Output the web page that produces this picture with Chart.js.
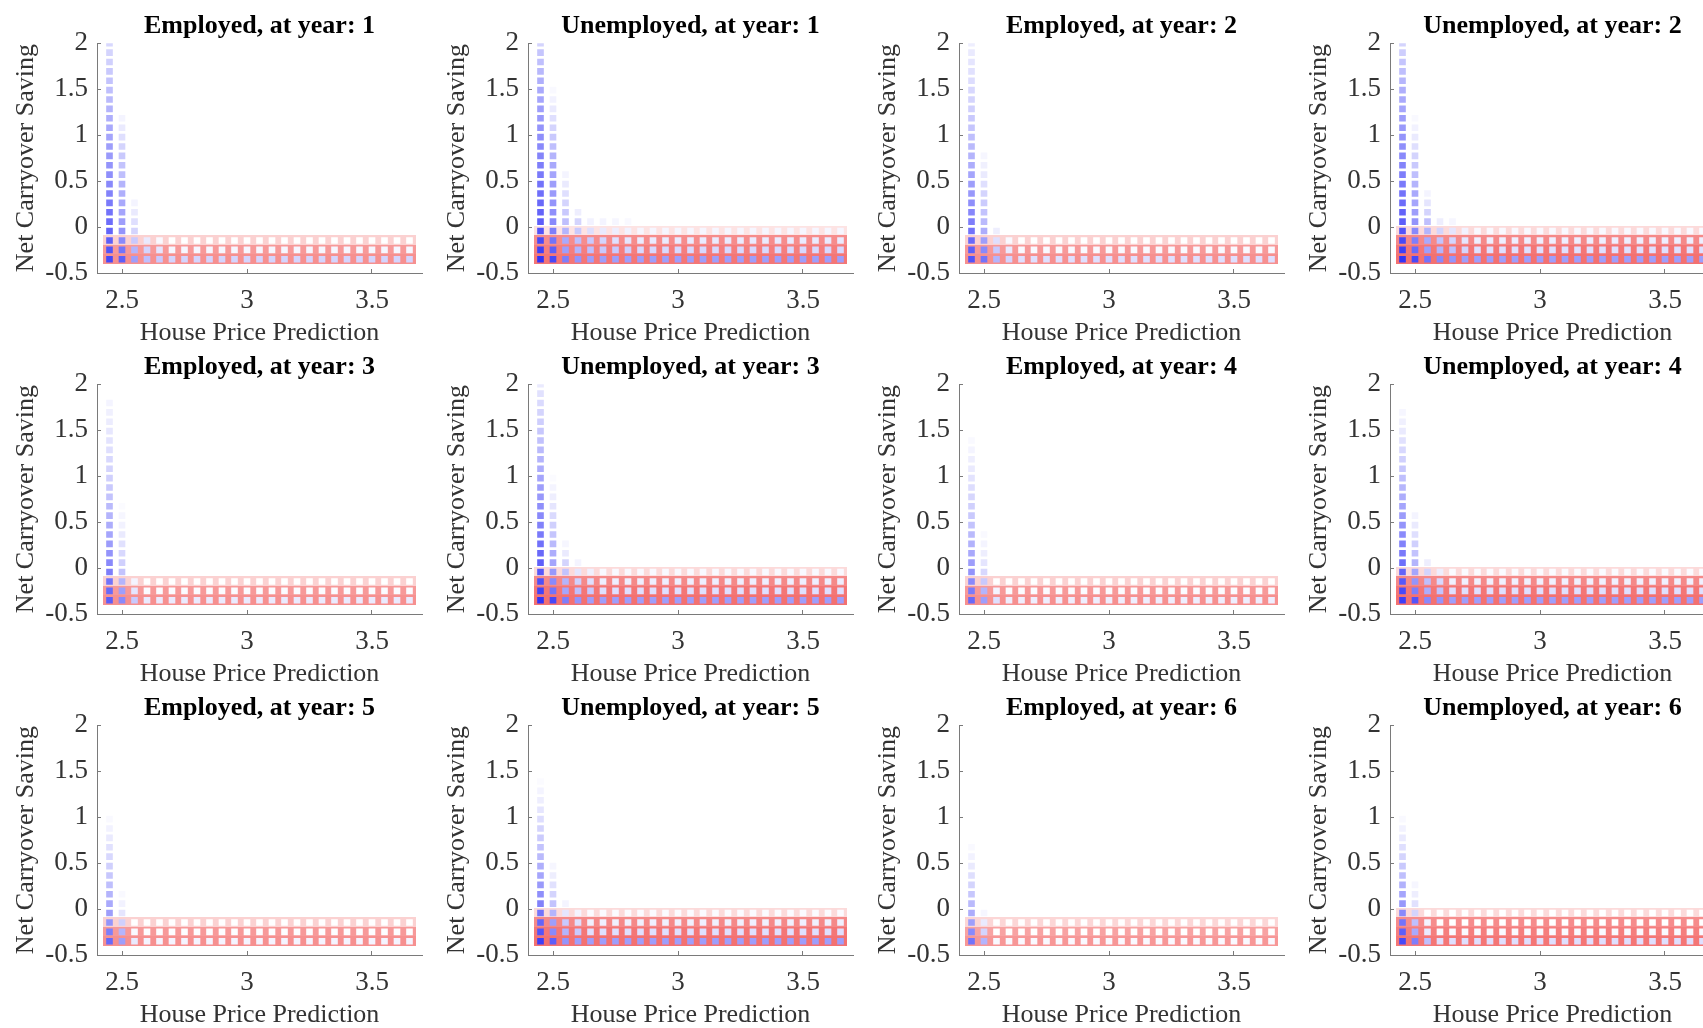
<!DOCTYPE html>
<html>
<head>
<meta charset="utf-8">
<script src="https://cdn.jsdelivr.net/npm/chart.js@4"></script>
<style>
  html, body { margin: 0; padding: 0; background: #fff; }
  #fig { position: relative; width: 1703px; height: 1028px; overflow: hidden; }
  #fig canvas { position: absolute; }
</style>
</head>
<body>
<div id="fig"></div>
<script>
// grid of the policy plot
const xGrid = [2.45, 2.5, 2.55, 2.6, 2.65, 2.7, 2.75, 2.8, 2.85, 2.9, 2.95, 3.0, 3.05,
  3.1, 3.15, 3.2, 3.25, 3.3, 3.35, 3.4, 3.45, 3.5, 3.55, 3.6, 3.65];
const yGrid = [-0.35, -0.248, -0.146, -0.043, 0.059, 0.161, 0.263, 0.365, 0.467, 0.57,
  0.672, 0.774, 0.876, 0.978, 1.08, 1.183, 1.285, 1.387, 1.489, 1.591, 1.693, 1.796, 1.898, 2.0];
const xTicks = [2.5, 3, 3.5];
const yTicks = [-0.5, 0, 0.5, 1, 1.5, 2];

const titles = [
  'Employed, at year: 1', 'Unemployed, at year: 1', 'Employed, at year: 2', 'Unemployed, at year: 2',
  'Employed, at year: 3', 'Unemployed, at year: 3', 'Employed, at year: 4', 'Unemployed, at year: 4',
  'Employed, at year: 5', 'Unemployed, at year: 5', 'Employed, at year: 6', 'Unemployed, at year: 6'
];

// blue intensity (0 = white, 1 = full blue), per column from the bottom row up
const blueE1 = [
  [0.85, 0.8, 0.75, 0.72, 0.68, 0.65, 0.62, 0.58, 0.55, 0.52, 0.5, 0.47, 0.45, 0.42, 0.4, 0.37, 0.35, 0.32, 0.3, 0.28, 0.25, 0.22, 0.2, 0.18],
  [0.75, 0.65, 0.55, 0.5, 0.45, 0.42, 0.4, 0.37, 0.35, 0.3, 0.28, 0.25, 0.2, 0.15, 0.1, 0.05],
  [0.45, 0.35, 0.25, 0.2, 0.15, 0.1, 0.05],
  [0.3, 0.2, 0.1],
  [0.25, 0.12, 0.03]
];
const tailE1 = [0.2, 0.04, 0];
const redE1 = [0.6, 0.55, 0.25];

const blueU1 = [
  [0.95, 0.9, 0.85, 0.8, 0.75, 0.72, 0.7, 0.67, 0.65, 0.62, 0.6, 0.57, 0.55, 0.52, 0.5, 0.47, 0.45, 0.42, 0.4, 0.37, 0.33, 0.3, 0.27, 0.2],
  [0.85, 0.75, 0.65, 0.6, 0.55, 0.52, 0.5, 0.47, 0.45, 0.42, 0.4, 0.35, 0.3, 0.25, 0.2, 0.15, 0.1, 0.06, 0.03],
  [0.6, 0.45, 0.4, 0.35, 0.3, 0.25, 0.2, 0.15, 0.1, 0.05],
  [0.5, 0.35, 0.3, 0.25, 0.2, 0.08],
  [0.45, 0.3, 0.25, 0.15, 0.06],
  [0.45, 0.25, 0.2, 0.1, 0.05],
  [0.45, 0.25, 0.15, 0.08, 0.04],
  [0.45, 0.22, 0.12, 0.06, 0.03]
];
const tailU1 = [0.45, 0.18, 0.1, 0.04];
const redU1 = [0.74, 0.7, 0.62, 0.15];

const blueE2 = [
  [0.8, 0.75, 0.7, 0.65, 0.6, 0.56, 0.52, 0.48, 0.45, 0.42, 0.38, 0.35, 0.32, 0.3, 0.27, 0.25, 0.22, 0.2, 0.18, 0.16, 0.14, 0.12, 0.1, 0.08],
  [0.65, 0.55, 0.45, 0.38, 0.32, 0.28, 0.24, 0.2, 0.15, 0.1, 0.07, 0.04],
  [0.35, 0.25, 0.15, 0.08],
  [0.2, 0.1, 0.03]
];
const tailE2 = [0.15, 0.03, 0];
const redE2 = [0.6, 0.55, 0.25];

const blueU2 = [
  [0.95, 0.9, 0.85, 0.8, 0.75, 0.72, 0.68, 0.65, 0.62, 0.6, 0.57, 0.55, 0.52, 0.5, 0.47, 0.45, 0.42, 0.4, 0.37, 0.34, 0.3, 0.27, 0.23, 0.2],
  [0.85, 0.7, 0.6, 0.55, 0.5, 0.45, 0.42, 0.4, 0.35, 0.3, 0.25, 0.2, 0.15, 0.1, 0.06, 0.03],
  [0.65, 0.45, 0.4, 0.35, 0.3, 0.2, 0.12, 0.05],
  [0.55, 0.35, 0.28, 0.2, 0.08],
  [0.5, 0.3, 0.2, 0.12, 0.04],
  [0.45, 0.2, 0.12, 0.06]
];
const tailU2 = [0.45, 0.15, 0.08, 0.03];
const redU2 = [0.77, 0.74, 0.64, 0.2];

const blueE3 = [
  [0.75, 0.7, 0.65, 0.6, 0.55, 0.5, 0.46, 0.42, 0.38, 0.35, 0.32, 0.28, 0.25, 0.22, 0.2, 0.18, 0.15, 0.13, 0.11, 0.09, 0.07, 0.05],
  [0.55, 0.45, 0.35, 0.28, 0.22, 0.18, 0.14, 0.1, 0.06, 0.04, 0.02],
  [0.25, 0.12, 0.05]
];
const tailE3 = [0.1, 0.02, 0];
const redE3 = [0.6, 0.55, 0.25];

const blueU3 = [
  [0.95, 0.88, 0.82, 0.78, 0.74, 0.7, 0.66, 0.62, 0.58, 0.55, 0.52, 0.48, 0.45, 0.42, 0.38, 0.35, 0.32, 0.29, 0.26, 0.23, 0.2, 0.17, 0.14, 0.1],
  [0.85, 0.65, 0.55, 0.48, 0.42, 0.38, 0.32, 0.27, 0.22, 0.17, 0.12, 0.08, 0.05, 0.02],
  [0.6, 0.42, 0.35, 0.28, 0.2, 0.1, 0.04],
  [0.5, 0.3, 0.22, 0.12, 0.05],
  [0.45, 0.25, 0.15, 0.07]
];
const tailU3 = [0.45, 0.15, 0.08, 0.03];
const redU3 = [0.77, 0.74, 0.64, 0.2];

const blueE4 = [
  [0.7, 0.62, 0.55, 0.5, 0.45, 0.4, 0.36, 0.32, 0.28, 0.25, 0.22, 0.19, 0.16, 0.13, 0.1, 0.08, 0.05, 0.03],
  [0.45, 0.35, 0.25, 0.18, 0.12, 0.08, 0.05, 0.03],
  [0.15, 0.05]
];
const tailE4 = [0.08, 0.02, 0];
const redE4 = [0.6, 0.55, 0.25];

const blueU4 = [
  [0.9, 0.85, 0.78, 0.72, 0.67, 0.62, 0.58, 0.54, 0.5, 0.46, 0.42, 0.38, 0.34, 0.3, 0.26, 0.22, 0.18, 0.14, 0.1, 0.07, 0.04],
  [0.8, 0.6, 0.5, 0.42, 0.35, 0.28, 0.22, 0.15, 0.1, 0.05],
  [0.55, 0.38, 0.3, 0.2, 0.08],
  [0.5, 0.28, 0.18, 0.08]
];
const tailU4 = [0.45, 0.15, 0.07, 0.02];
const redU4 = [0.77, 0.74, 0.64, 0.2];

const blueE5 = [
  [0.7, 0.6, 0.5, 0.45, 0.4, 0.35, 0.3, 0.26, 0.22, 0.18, 0.14, 0.1, 0.06, 0.03],
  [0.45, 0.35, 0.22, 0.12, 0.06, 0.03],
  [0.1, 0.03]
];
const tailE5 = [0.05, 0.01, 0];
const redE5 = [0.6, 0.55, 0.25];

const blueU5 = [
  [0.9, 0.8, 0.72, 0.65, 0.58, 0.52, 0.47, 0.42, 0.37, 0.32, 0.28, 0.24, 0.2, 0.16, 0.12, 0.08, 0.05, 0.02],
  [0.75, 0.55, 0.45, 0.35, 0.28, 0.2, 0.14, 0.08, 0.04],
  [0.5, 0.35, 0.25, 0.12, 0.05],
  [0.45, 0.25, 0.15, 0.05]
];
const tailU5 = [0.45, 0.15, 0.07, 0.02];
const redU5 = [0.77, 0.74, 0.64, 0.2];

const blueE6 = [
  [0.65, 0.55, 0.45, 0.38, 0.32, 0.26, 0.2, 0.15, 0.1, 0.06, 0.03],
  [0.35, 0.2, 0.1, 0.04]
];
const tailE6 = [0.03, 0, 0];
const redE6 = [0.56, 0.5, 0.22];

const blueU6 = [
  [0.85, 0.75, 0.65, 0.55, 0.48, 0.42, 0.36, 0.3, 0.25, 0.2, 0.15, 0.1, 0.06, 0.03],
  [0.6, 0.4, 0.3, 0.2, 0.14, 0.08, 0.04],
  [0.3, 0.1, 0.05]
];
const tailU6 = [0.15, 0.03, 0, 0];
const redU6 = [0.74, 0.7, 0.62, 0.2];

const panels = [
  [blueE1, tailE1, redE1], [blueU1, tailU1, redU1], [blueE2, tailE2, redE2], [blueU2, tailU2, redU2],
  [blueE3, tailE3, redE3], [blueU3, tailU3, redU3], [blueE4, tailE4, redE4], [blueU4, tailU4, redU4],
  [blueE5, tailE5, redE5], [blueU5, tailU5, redU5], [blueE6, tailE6, redE6], [blueU6, tailU6, redU6]
];

const FONT = '"Liberation Serif", "Times New Roman", serif';
const AXIS = '#7a7a7a';
const TEXT = '#333333';

function blueColor(v) {
  const r = Math.round(255 - v * (255 - 40));
  const b = Math.round(255 - v * 8);
  return 'rgb(' + r + ',' + r + ',' + b + ')';
}

// red drawn opaque (pre-mixed with white) so the tiles join into a flat band
function redColor(a) {
  const r = Math.round(255 - a * (255 - 240));
  const g = Math.round(255 - a * (255 - 70));
  return 'rgb(' + r + ',' + g + ',' + g + ')';
}

// red marker: a tile as wide as a column step and as tall as a row step
function redTile(a) {
  const c = document.createElement('canvas');
  c.width = 13;
  c.height = 10;
  const g = c.getContext('2d');
  g.fillStyle = redColor(a);
  g.fillRect(0, 0, 13, 10);
  return c;
}

function buildPoints(blue, tail, red) {
  const bluePts = [];
  const redPts = [];
  xGrid.forEach((x, ci) => {
    const col = blue[ci] || tail;
    const n = Math.max(col.length, red.length);
    for (let ri = 0; ri < n; ri++) {
      bluePts.push({ x: x, y: yGrid[ri], v: col[ri] || 0 });
    }
  });
  for (let ri = red.length - 1; ri >= 0; ri--) {
    xGrid.forEach(x => redPts.push({ x: x, y: yGrid[ri], ri: ri }));
  }
  return { bluePts, redPts };
}

const fig = document.getElementById('fig');

panels.forEach((p, k) => {
  const row = Math.floor(k / 4);
  const col = k % 4;
  const canvas = document.createElement('canvas');
  canvas.width = 431;
  canvas.height = 360;
  canvas.style.left = (col * 431) + 'px';
  canvas.style.top = (row * 341) + 'px';
  fig.appendChild(canvas);

  const pts = buildPoints(p[0], p[1], p[2]);
  const tiles = p[2].map(redTile);

  new Chart(canvas.getContext('2d'), {
    type: 'scatter',
    data: {
      datasets: [
        {
          label: 'blue',
          data: pts.bluePts,
          order: 0,
          pointStyle: 'rect',
          pointRadius: 4.7,
          borderWidth: 0,
          backgroundColor: c => blueColor(c.raw ? c.raw.v : 0)
        },
        {
          label: 'red',
          data: pts.redPts,
          order: 1,
          pointStyle: c => (c.raw ? tiles[c.raw.ri] : 'rect'),
          pointRadius: 6,
          borderWidth: 0
        }
      ]
    },
    options: {
      responsive: false,
      animation: false,
      devicePixelRatio: 1,
      layout: { padding: { left: 0, right: 9, top: 0, bottom: 0 } },
      plugins: {
        legend: { display: false },
        tooltip: { enabled: false },
        title: {
          display: true,
          text: titles[k],
          fullSize: false,
          color: '#000',
          font: { family: FONT, size: 26, weight: 'bold', lineHeight: 1.2 },
          padding: { top: 11, bottom: 1 }
        }
      },
      scales: {
        x: {
          type: 'linear',
          min: 2.4,
          max: 3.7,
          afterBuildTicks: s => { s.ticks = xTicks.map(v => ({ value: v })); },
          afterFit: s => { s.height = 87; },
          grid: { drawOnChartArea: false, tickLength: -4, color: AXIS },
          border: { color: AXIS, width: 1 },
          ticks: { color: TEXT, padding: 16, font: { family: FONT, size: 27 }, callback: v => String(v) },
          title: {
            display: true,
            text: 'House Price Prediction',
            color: TEXT,
            font: { family: FONT, size: 26, lineHeight: 1 },
            padding: { top: 0, bottom: 14 }
          }
        },
        y: {
          type: 'linear',
          min: -0.5,
          max: 2,
          afterBuildTicks: s => { s.ticks = yTicks.map(v => ({ value: v })); },
          afterFit: s => { s.width = 97; },
          grid: { drawOnChartArea: false, tickLength: -4, color: AXIS },
          border: { color: AXIS, width: 1 },
          ticks: { color: TEXT, padding: 13, font: { family: FONT, size: 27 }, callback: v => String(v) },
          title: {
            display: true,
            text: 'Net Carryover Saving',
            color: TEXT,
            font: { family: FONT, size: 26, lineHeight: 1 },
            padding: { top: 13, bottom: 0 }
          }
        }
      }
    }
  });
});
</script>
</body>
</html>
